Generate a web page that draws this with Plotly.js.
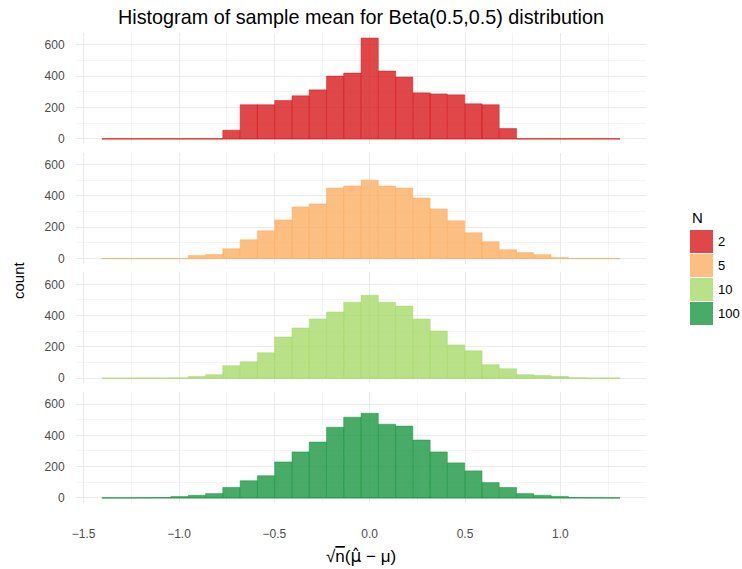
<!DOCTYPE html>
<html>
<head>
<meta charset="utf-8">
<script src="https://cdn.plot.ly/plotly-3.0.1.min.js"></script>
<style>
  html, body { margin: 0; padding: 0; background: #ffffff; }
  #chart { width: 742px; height: 569px; }
</style>
</head>
<body>
<div id="chart"></div>
<script>
// ---------------- data ----------------
const groups = ["2", "5", "10", "100"];
const groupColors = ["#D7191C", "#FDAE61", "#A6D96A", "#1A9641"];
const binWidth = 0.0906;
const binCenters = [-1.359, -1.268, -1.178, -1.087, -0.997, -0.906, -0.815, -0.725, -0.634, -0.544,
                    -0.453, -0.362, -0.272, -0.181, -0.091, 0.000, 0.091, 0.181, 0.272, 0.362,
                    0.453, 0.544, 0.634, 0.725, 0.815, 0.906, 0.997, 1.087, 1.178, 1.268];
const countsN2   = [0, 0, 0, 0, 0, 0, 0, 55, 218, 218, 245, 275, 313, 401, 420, 644, 433, 395, 294, 287,
                    281, 224, 218, 66, 0, 0, 0, 0, 0, 0];
const countsN5   = [0, 0, 0, 0, 0, 20, 26, 63, 120, 177, 247, 330, 349, 450, 463, 501, 463, 450, 387, 317,
                    241, 165, 108, 57, 38, 25, 6, 0, 0, 0];
const countsN10  = [0, 0, 1, 1, 2, 11, 23, 80, 106, 163, 264, 321, 378, 423, 486, 530, 486, 461, 378, 302,
                    213, 175, 87, 61, 23, 17, 11, 3, 1, 1];
const countsN100 = [1, 1, 2, 3, 9, 17, 28, 67, 110, 142, 230, 294, 357, 452, 516, 541, 471, 459, 370, 294,
                    224, 173, 98, 67, 28, 17, 10, 3, 2, 1];
const seriesCounts = [countsN2, countsN5, countsN10, countsN100];
const yTickVals = [0, 200, 400, 600];
const xTickVals = [-1.5, -1.0, -0.5, 0.0, 0.5, 1.0];

const titleText = "Histogram of sample mean for Beta(0.5,0.5) distribution";
const xTitleText = "√<span style=\"text-decoration:overline\">n</span>(<span style=\"font-family:DejaVu Sans\">μ̂</span> − μ)";
const yTitleText = "count";
const legendTitle = "N";

// ---------------- geometry ----------------
const W = 742, H = 569;
const M = { l: 76, r: 96, t: 33, b: 66 };
const plotW = W - M.l - M.r, plotH = H - M.t - M.b;
const panelPitch = 119.7, panelH = 110.9;
const px2x = p => (p - M.l) / plotW;
const px2y = p => (H - M.b - p) / plotH;

function rgba(hex, a) {
  const n = parseInt(hex.slice(1), 16);
  return `rgba(${(n >> 16) & 255},${(n >> 8) & 255},${n & 255},${a})`;
}

// y range from data (5% expansion like ggplot)
let maxCount = 0;
seriesCounts.forEach(s => s.forEach(v => { if (v > maxCount) maxCount = v; }));
const yRange = [-0.05 * maxCount, 1.05 * maxCount];
const xMinEdge = binCenters[0] - binWidth / 2;
const xMaxEdge = binCenters[binCenters.length - 1] + binWidth / 2;
const xSpan = xMaxEdge - xMinEdge;
const xRange = [xMinEdge - 0.05 * xSpan, xMaxEdge + 0.05 * xSpan];

const font = "Liberation Sans, Arial, Helvetica, sans-serif";
const gridMajor = "#ebebeb";

const traces = [];
const layout = {
  width: W, height: H,
  margin: M,
  paper_bgcolor: "#ffffff",
  plot_bgcolor: "#ffffff",
  showlegend: false,
  bargap: 0,
  barmode: "overlay",
  font: { family: font, size: 12, color: "#4d4d4d" },
  title: {
    text: titleText,
    font: { family: font, size: 19.8, color: "#000000" },
    x: 0.5, xref: "paper", xanchor: "center",
    y: 1 - 16.7 / H, yref: "container", yanchor: "middle"
  },
  xaxis: {
    range: xRange,
    anchor: "y4",
    tickvals: xTickVals,
    tickformat: ".1f",
    showgrid: true, gridcolor: gridMajor, gridwidth: 1,
    minor: { dtick: 0.25, tick0: 0, showgrid: true, gridcolor: gridMajor, gridwidth: 0.5 },
    zeroline: false, showline: false,
    ticks: "outside", ticklen: 20, tickcolor: "rgba(0,0,0,0)",
    tickfont: { family: font, size: 12, color: "#4d4d4d" },
    fixedrange: true
  },
  shapes: [],
  annotations: []
};

groups.forEach((g, k) => {
  const axId = k === 0 ? "" : String(k + 1);
  const top = M.t + k * panelPitch;
  const bottom = top + panelH;
  layout["yaxis" + axId] = {
    domain: [Math.max(0, px2y(bottom)), Math.min(1, px2y(top))],
    range: yRange,
    anchor: "x",
    tickvals: yTickVals,
    showgrid: true, gridcolor: gridMajor, gridwidth: 1,
    minor: { dtick: 100, tick0: 0, showgrid: true, gridcolor: gridMajor, gridwidth: 0.5 },
    zeroline: false, showline: false,
    ticks: "outside", ticklen: 8, tickcolor: "rgba(0,0,0,0)",
    tickfont: { family: font, size: 12, color: "#4d4d4d" },
    fixedrange: true
  };
  // baseline of the histogram (outline of empty bins)
  traces.push({
    type: "scatter", mode: "lines",
    x: [xMinEdge, xMaxEdge], y: [0, 0],
    xaxis: "x", yaxis: "y" + axId,
    line: { color: groupColors[k], width: 0.7 },
    hoverinfo: "skip"
  });
  traces.push({
    type: "bar",
    name: g,
    x: binCenters,
    y: seriesCounts[k],
    width: binCenters.map(() => binWidth),
    xaxis: "x", yaxis: "y" + axId,
    marker: { color: rgba(groupColors[k], 0.8), line: { color: groupColors[k], width: 0.5 } }
  });
});

// axis titles
layout.annotations.push({
  text: xTitleText, xref: "paper", yref: "paper",
  x: 0.5, y: px2y(556), xanchor: "center", yanchor: "middle",
  showarrow: false, font: { family: font, size: 17, color: "#000000" }
});
layout.annotations.push({
  text: yTitleText, xref: "paper", yref: "paper",
  x: px2x(18), y: px2y(280), xanchor: "center", yanchor: "middle", textangle: -90,
  showarrow: false, font: { family: font, size: 15, color: "#000000" }
});

// legend (ggplot style)
const legX = 690, legKey = 23, legPitch = 24, legTop = 230;
layout.annotations.push({
  text: legendTitle, xref: "paper", yref: "paper",
  x: px2x(legX), y: px2y(217), xanchor: "left", yanchor: "middle",
  showarrow: false, font: { family: font, size: 15, color: "#000000" }
});
groups.forEach((g, k) => {
  const y0 = legTop + k * legPitch;
  layout.shapes.push({
    type: "rect", xref: "paper", yref: "paper",
    x0: px2x(legX), x1: px2x(legX + legKey),
    y0: px2y(y0), y1: px2y(y0 + legKey),
    fillcolor: rgba(groupColors[k], 0.8), line: { width: 0 }
  });
  layout.annotations.push({
    text: g, xref: "paper", yref: "paper",
    x: px2x(legX + legKey + 3), y: px2y(y0 + legKey / 2), xanchor: "left", yanchor: "middle",
    showarrow: false, font: { family: font, size: 13, color: "#000000" }
  });
});

Plotly.newPlot("chart", traces, layout, { displayModeBar: false, staticPlot: true });
</script>
</body>
</html>
